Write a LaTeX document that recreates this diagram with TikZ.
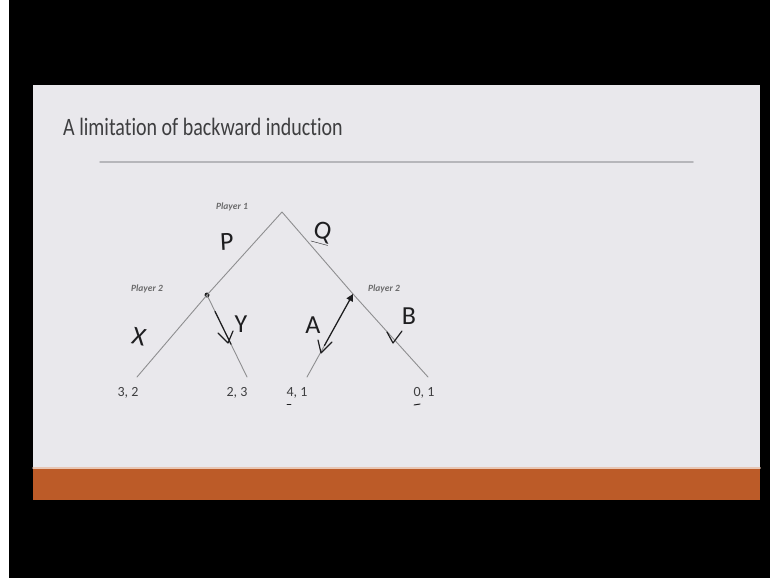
\documentclass[tikz,border=0pt]{standalone}
\usepackage{fontspec}
\setmainfont{Carlito}[Ligatures=NoCommon]
\usepackage{xcolor}
\usepackage{graphicx}
\usetikzlibrary{arrows.meta,calc}
\definecolor{slBack}{HTML}{E9E8EC}
\definecolor{slInk}{HTML}{3E3E40}
\definecolor{slRule}{HTML}{B6B6BA}
\definecolor{slBand}{HTML}{BC5B28}
\definecolor{gtLine}{HTML}{8E8E90}
\definecolor{gtPen}{HTML}{1E1E20}
\tikzset{
  gt diagram/.style={x=1pt, y=-1pt, line cap=round, line join=round},
  gt branch/.style={draw=gtLine, line width=0.9pt},
  gt player/.style={font=\fontsize{9.5}{10}\selectfont\itshape\bfseries,
    text=gtLine!75!black, inner sep=0pt},
  gt payoff/.style={font=\fontsize{14}{16}\selectfont, text=slInk, inner sep=0pt},
  gt pen/.style={draw=gtPen, line width=1.2pt},
  gt hand/.style={font=\fontsize{26}{28}\selectfont, text=gtPen, inner sep=0pt},
  gt dot/.style={circle, fill=gtPen, inner sep=0pt, minimum size=5pt}
}
\begin{document}
\begin{tikzpicture}[gt diagram]
\useasboundingbox (0,0) rectangle (770,578);
% photo frame and slide
\fill[black] (0,0) rectangle (770,578);
\fill[white] (0,0) rectangle (9,578);
\fill[slBack] (33,85) rectangle (760,468);
\fill[slBand] (33,468) rectangle (760,500);
\draw[slBand!35!white, line width=1.5pt] (33,468) -- (760,468);
\node[anchor=west, font=\fontsize{25}{28}\selectfont, text=slInk, inner sep=0pt]
  (title) at (63,127) {\scalebox{0.8}[1]{A limitation of backward induction}};
\draw[slRule, line width=1.5pt] (100,162) -- (693,162);

% game tree
\coordinate (root) at (282,212);
\node[gt dot] (p2l) at (207,295) {};
\coordinate (p2r) at (353,294);
\foreach \n/\x in {l1/137,l2/247,l3/307,l4/428} \coordinate (\n) at (\x,377);
\draw[gt branch] (root) -- (p2l.center) (root) -- (p2r);
\draw[gt branch] (p2l.center) -- (l1) (p2l.center) -- (l2);
\draw[gt branch] (p2r) -- (l3) (p2r) -- (l4);

\node[gt player] (pl1) at (232,207) {Player 1};
\node[gt player] (pl2l) at (147,289) {Player 2};
\node[gt player] (pl2r) at (384,289) {Player 2};

\node[gt payoff] (u1) at (128,393) {3, 2};
\node[gt payoff] (u2) at (237,393) {2, 3};
\node[gt payoff] (u3) at (297,393) {4, 1};
\node[gt payoff] (u4) at (424,393) {0, 1};
\draw[gt pen, line width=0.9pt] (287,404) -- (291,404);
\draw[gt pen, line width=1pt] (414,405) -- (420,404);

% handwriting
\node[gt hand, rotate=3] (hp) at (227,242) {P};
\node[gt hand, rotate=-15] (hq) at (322,233) {\underline{Q}};
\node[gt hand, rotate=-12] (hx) at (139,337) {X};
\node[gt hand] (hy) at (241,324) {Y};
\node[gt hand] (ha) at (313,325) {A};
\node[gt hand] (hb) at (409,316) {B};
\coordinate (as) at ($(p2r)!0.62!(l3)$);
\draw[gt pen, -{Triangle[length=7pt,width=7pt]}] (as) -- (p2r);
\draw[gt pen] ($(p2l)!0.2!(l2)$) -- ($(p2l)!0.6!(l2)$);
\foreach \a/\b/\c in {{(218,333)}/{(228,343)}/{(233,331)},
                      {(318,340)}/{(321,353)}/{(332,342)},
                      {(387,332)}/{(393,343)}/{(402,331)}}
  \draw[gt pen] \a -- \b -- \c;
\end{tikzpicture}
\end{document}
